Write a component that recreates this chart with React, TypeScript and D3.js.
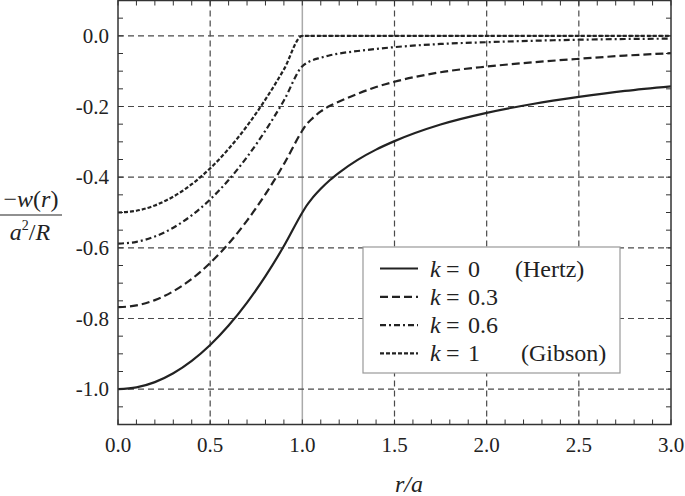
import React from "react";
import * as d3 from "d3";

const rVals = [0, 0.1, 0.2, 0.3, 0.4, 0.5, 0.6, 0.7, 0.8, 0.9, 1.0, 1.02, 1.05, 1.1, 1.15, 1.2, 1.3, 1.4, 1.5, 1.75, 2.0, 2.25, 2.5, 2.75, 3.0];
const hertzVals = [-1, -0.995, -0.98, -0.955, -0.92, -0.875, -0.82, -0.755, -0.68, -0.595, -0.5, -0.483, -0.462, -0.433, -0.408, -0.387, -0.351, -0.322, -0.298, -0.251, -0.218, -0.193, -0.173, -0.156, -0.143];
const k03Vals = [-0.768, -0.763, -0.748, -0.723, -0.688, -0.643, -0.588, -0.523, -0.448, -0.363, -0.268, -0.252, -0.236, -0.214, -0.198, -0.186, -0.164, -0.145, -0.13, -0.103, -0.087, -0.075, -0.065, -0.056, -0.049];
const k06Vals = [-0.588, -0.583, -0.568, -0.543, -0.508, -0.463, -0.408, -0.343, -0.268, -0.183, -0.086, -0.078, -0.07, -0.062, -0.055, -0.05, -0.043, -0.037, -0.032, -0.023, -0.018, -0.014, -0.011, -0.009, -0.008];
const gibsonVals = [-0.5, -0.495, -0.48, -0.455, -0.42, -0.375, -0.32, -0.255, -0.18, -0.095, 0, 0, 0, 0, 0, 0, 0, 0, 0, 0, 0, 0, 0, 0, 0];

const xTickLabels = ["0.0", "0.5", "1.0", "1.5", "2.0", "2.5", "3.0"];
const yTickLabels = ["0.0", "-0.2", "-0.4", "-0.6", "-0.8", "-1.0"];

const series = [
  { name: "0", note: "(Hertz)", values: hertzVals, dash: "none" },
  { name: "0.3", note: "", values: k03Vals, dash: "8 4" },
  { name: "0.6", note: "", values: k06Vals, dash: "6 3 2 3" },
  { name: "1", note: "(Gibson)", values: gibsonVals, dash: "4 2" },
];

const W = 685;
const H = 496;
const L = 118, R = 671, T = 0.5, B = 424.5;

export default function App() {
  const x = d3.scaleLinear().domain([0, 3]).range([L, R]);
  const y = d3.scaleLinear().domain([0.1, -1.1]).range([T, B]);
  const xMinor = d3.range(0, 31).map((i) => i / 10);
  const yMinor = d3.range(0, 25).map((i) => 0.1 - i * 0.05);
  const line = (vals: number[]) =>
    d3
      .line<number>()
      .x((_, i) => x(rVals[i]))
      .y((v) => y(v))
      .curve(d3.curveMonotoneX)(vals) || "";

  const legX = 363, legY = 247, legW = 257, legH = 126;
  const rowY = (i: number) => 268.5 + i * 28.3;

  return (
    <svg
      width={W}
      height={H}
      fontFamily="Liberation Serif"
      style={{ position: "absolute", left: 0, top: 0, background: "#fff", fontFamily: "Liberation Serif" }}
    >
      <style>{`text, tspan { font-family: "Liberation Serif", serif; }`}</style>
      {xTickLabels.map((t) => {
        const v = parseFloat(t);
        if (v === 0 || v === 3) return null;
        if (v === 1)
          return <line key={"gx" + t} x1={x(v)} x2={x(v)} y1={T} y2={B} stroke="#aaa" strokeWidth={1.5} />;
        return <line key={"gx" + t} x1={x(v)} x2={x(v)} y1={T} y2={B} stroke="#4a4a4a" strokeWidth={1.2} strokeDasharray="6 4" />;
      })}
      {yTickLabels.map((t) => (
        <line key={"gy" + t} x1={L} x2={R} y1={y(parseFloat(t))} y2={y(parseFloat(t))} stroke="#4a4a4a" strokeWidth={1.2} strokeDasharray="6 4" />
      ))}
      {xMinor.map((v) => (
        <g key={"tx" + v}>
          <line x1={x(v)} x2={x(v)} y1={B} y2={B - 5} stroke="#333" strokeWidth={1} />
          <line x1={x(v)} x2={x(v)} y1={T} y2={T + 5} stroke="#333" strokeWidth={1} />
        </g>
      ))}
      {yMinor.map((v) => (
        <g key={"ty" + v}>
          <line x1={L} x2={L + 5} y1={y(v)} y2={y(v)} stroke="#333" strokeWidth={1} />
          <line x1={R} x2={R - 5} y1={y(v)} y2={y(v)} stroke="#333" strokeWidth={1} />
        </g>
      ))}
      {series.map((s) => (
        <path key={s.name} d={line(s.values)} fill="none" stroke="#222" strokeWidth={2.2} strokeDasharray={s.dash} />
      ))}
      <rect x={L} y={T} width={R - L} height={B - T} fill="none" stroke="#333" strokeWidth={1.5} />
      {xTickLabels.map((t) => (
        <text key={"lx" + t} x={x(parseFloat(t))} y={451.5} textAnchor="middle" fontSize={21} fill="#222">
          {t}
        </text>
      ))}
      {yTickLabels.map((t) => (
        <text key={"ly" + t} x={109} y={y(parseFloat(t)) + 7} textAnchor="end" fontSize={21} fill="#222">
          {t}
        </text>
      ))}
      <text x={409} y={492} textAnchor="middle" fontSize={24} fontStyle="italic" fill="#222">
        r/a
      </text>
      <text x={31} y={207} textAnchor="middle" fontSize={24} fill="#222">
        <tspan>−</tspan>
        <tspan fontStyle="italic">w</tspan>
        <tspan>(</tspan>
        <tspan fontStyle="italic">r</tspan>
        <tspan>)</tspan>
      </text>
      <line x1={0} x2={62} y1={215} y2={215} stroke="#222" strokeWidth={1.2} />
      <text x={30} y={240} textAnchor="middle" fontSize={24} fill="#222">
        <tspan fontStyle="italic">a</tspan>
        <tspan fontSize={14} dy={-10}>2</tspan>
        <tspan dy={10}>/</tspan>
        <tspan fontStyle="italic">R</tspan>
      </text>
      <rect x={legX} y={legY} width={legW} height={legH} fill="#fff" stroke="#999" strokeWidth={1.2} />
      {series.map((s, i) => (
        <g key={"leg" + s.name}>
          <line x1={380} x2={418} y1={rowY(i)} y2={rowY(i)} stroke="#222" strokeWidth={2.2} strokeDasharray={s.dash} />
          <text x={430} y={rowY(i) + 8} fontSize={24} fontStyle="italic" fill="#222">k</text>
          <text x={446} y={rowY(i) + 8} fontSize={24} fill="#222">=</text>
          <text x={468} y={rowY(i) + 8} fontSize={24} fill="#222">{s.name}</text>
          {s.note && (
            <text x={s.note === "(Hertz)" ? 515 : 521} y={rowY(i) + 8} fontSize={24} fill="#222">
              {s.note}
            </text>
          )}
        </g>
      ))}
    </svg>
  );
}
